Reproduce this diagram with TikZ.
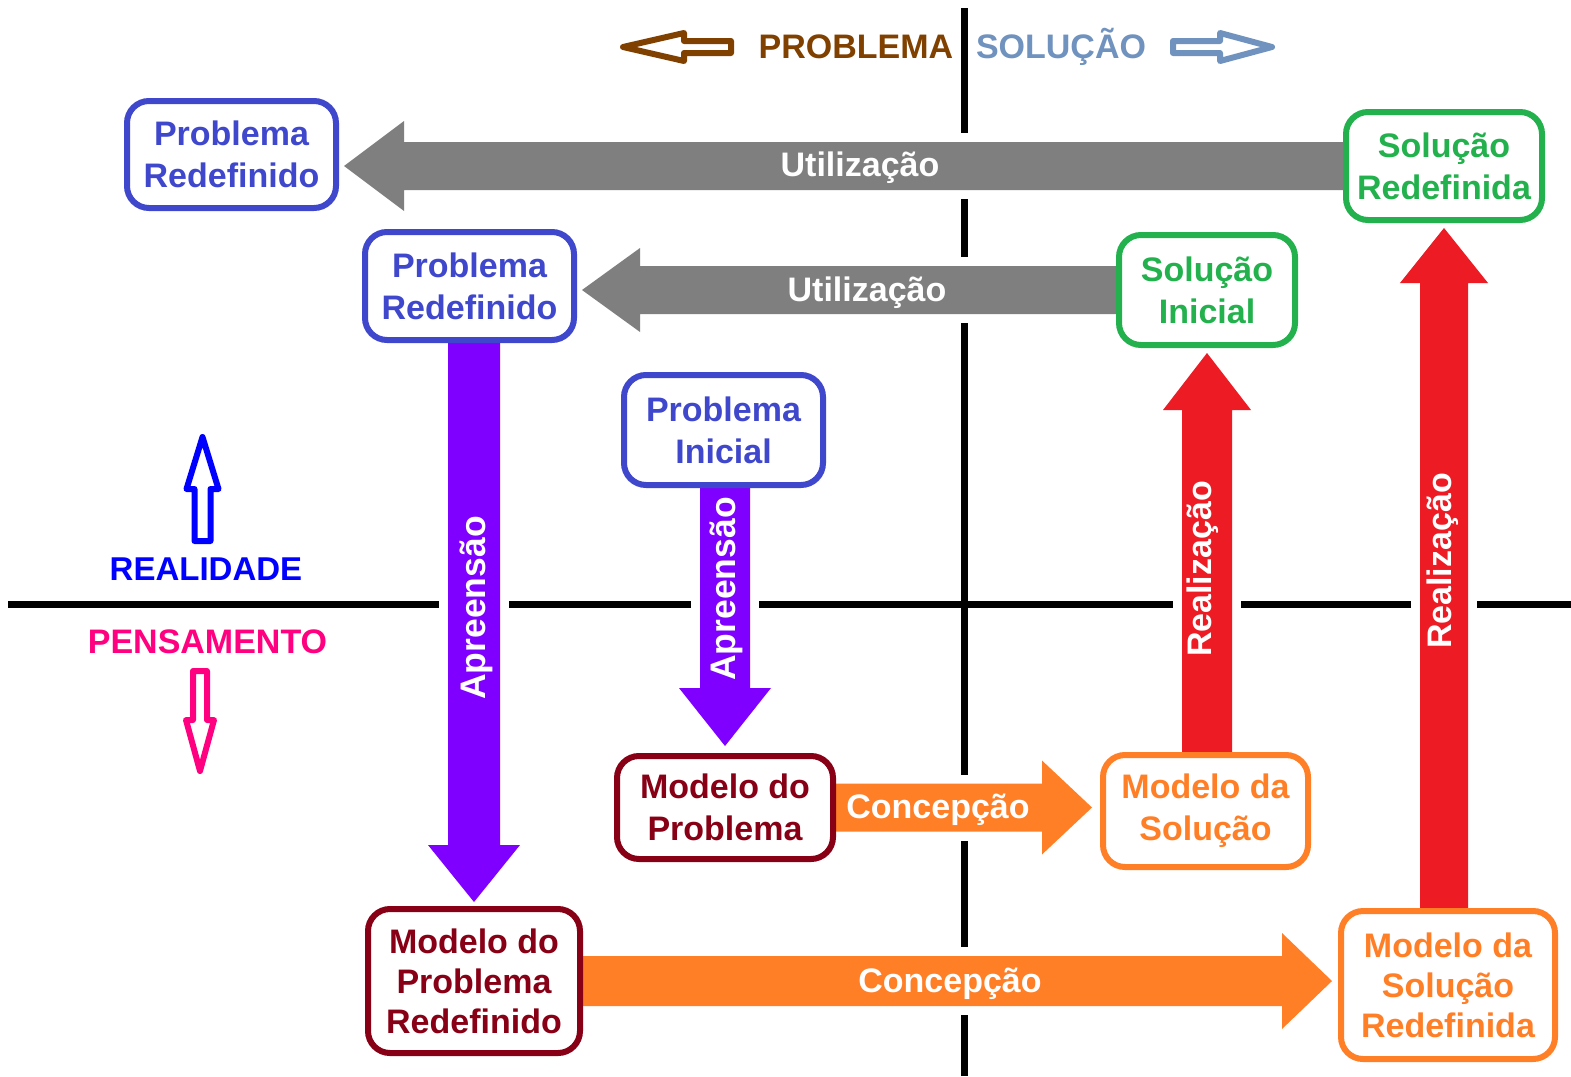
\documentclass[tikz,border=0pt]{standalone}
\usepackage{fontspec}
\setmainfont{Liberation Sans}
\usetikzlibrary{calc}
\pgfdeclarelayer{bg}
\pgfdeclarelayer{mid}
\pgfsetlayers{bg,mid,main}
\definecolor{cnblue}{HTML}{3F48CC}
\definecolor{cgreen}{HTML}{22B14C}
\definecolor{cdred}{HTML}{880015}
\definecolor{corange}{HTML}{FF7F27}
\definecolor{cgray}{HTML}{7F7F7F}
\definecolor{cpurple}{HTML}{8000FF}
\definecolor{cred}{HTML}{ED1C24}
\definecolor{cbrown}{HTML}{804000}
\definecolor{csteel}{HTML}{7092BE}
\definecolor{cblue}{HTML}{0000FF}
\definecolor{cpink}{HTML}{FF0080}
% block arrows: #1 colour, #2 start, #3 tip, #4 half body, #5 head length, #6 half head
\newcommand\arrL[6]{%
 \fill[white] let \p1=#2, \p2=#3 in (\x1,\y1+#4+9pt) rectangle (\x2+#5,\y1-#4-9pt);
 \fill[#1] let \p1=#2, \p2=#3 in (\x1,\y1+#4) -- (\x2+#5,\y1+#4) -- (\x2+#5,\y1+#6) -- (\x2,\y1) -- (\x2+#5,\y1-#6) -- (\x2+#5,\y1-#4) -- (\x1,\y1-#4) -- cycle;}
\newcommand\arrR[6]{%
 \fill[white] let \p1=#2, \p2=#3 in (\x1,\y1+#4+9pt) rectangle (\x2-#5,\y1-#4-9pt);
 \fill[#1] let \p1=#2, \p2=#3 in (\x1,\y1+#4) -- (\x2-#5,\y1+#4) -- (\x2-#5,\y1+#6) -- (\x2,\y1) -- (\x2-#5,\y1-#6) -- (\x2-#5,\y1-#4) -- (\x1,\y1-#4) -- cycle;}
\newcommand\arrD[6]{%
 \fill[white] let \p1=#2, \p2=#3 in (\x2-#4-9pt,\y1) rectangle (\x2+#4+9pt,\y2+#5);
 \fill[#1] let \p1=#2, \p2=#3 in (\x2-#4,\y1) -- (\x2-#4,\y2+#5) -- (\x2-#6,\y2+#5) -- (\x2,\y2) -- (\x2+#6,\y2+#5) -- (\x2+#4,\y2+#5) -- (\x2+#4,\y1) -- cycle;}
\newcommand\arrU[6]{%
 \fill[white] let \p1=#2, \p2=#3 in (\x2-#4-9pt,\y1) rectangle (\x2+#4+9pt,\y2-#5);
 \fill[#1] let \p1=#2, \p2=#3 in (\x2-#4,\y1) -- (\x2-#4,\y2-#5) -- (\x2-#6,\y2-#5) -- (\x2,\y2) -- (\x2+#6,\y2-#5) -- (\x2+#4,\y2-#5) -- (\x2+#4,\y1) -- cycle;}
\begin{document}
\begin{tikzpicture}[x=1pt,y=-1pt,
  box/.style={draw, line width=6pt, rounded corners=22pt, fill=white, align=center, inner sep=0pt, font=\bfseries\fontsize{34}{42}\selectfont},
  lbl/.style={text=white, font=\bfseries\fontsize{34}{40}\selectfont, inner sep=0pt},
  hdr/.style={font=\bfseries\fontsize{33}{40}\selectfont, inner sep=0pt},
  outarrow/.style={line width=6pt, line join=round, fill=white}]
\useasboundingbox (0,0) rectangle (1571,1076);
% nodes
\node[box, draw=cnblue, text=cnblue, minimum width=209pt, minimum height=107pt] (pr1) at (231.5,154.5) {Problema\\Redefinido};
\node[box, draw=cnblue, text=cnblue, minimum width=209pt, minimum height=108pt] (pr2) at (469.5,286) {Problema\\Redefinido};
\node[box, draw=cnblue, text=cnblue, minimum width=199pt, minimum height=110pt] (pi) at (723.5,430) {Problema\\Inicial};
\node[box, draw=cgreen, text=cgreen, minimum width=196pt, minimum height=108pt] (sr) at (1444,166) {Solução\\Redefinida};
\node[box, draw=cgreen, text=cgreen, minimum width=176pt, minimum height=110pt] (si) at (1207,290) {Solução\\Inicial};
\node[box, draw=cdred, text=cdred, minimum width=216pt, minimum height=103pt] (mp) at (725,807.5) {Modelo do\\Problema};
\node[box, draw=corange, text=corange, minimum width=205pt, minimum height=112pt] (ms) at (1205.5,811) {Modelo da\\Solução};
\node[box, draw=cdred, text=cdred, minimum width=212pt, minimum height=144pt, font=\bfseries\fontsize{34}{40}\selectfont] (mpr) at (474,981) {Modelo do\\Problema\\Redefinido};
\node[box, draw=corange, text=corange, minimum width=214pt, minimum height=148pt, font=\bfseries\fontsize{34}{40}\selectfont] (msr) at (1448,985) {Modelo da\\Solução\\Redefinida};
% background and axes
\begin{pgfonlayer}{bg}
\fill[white] (0,0) rectangle (1571,1076);
\draw[line width=7pt] (964,8) -- (964,1076);
\draw[line width=7pt] (8,604) -- (1571,604);
\end{pgfonlayer}
% block arrows
\begin{pgfonlayer}{mid}
\arrL{cgray}{(sr.west)}{([xshift=5pt]pr1.east)}{24pt}{60pt}{45pt}
\arrL{cgray}{(si.west)}{([xshift=5pt]pr2.east)}{24pt}{58pt}{42pt}
\arrD{cpurple}{(pr2.south)}{([yshift=4pt]mpr.north)}{26pt}{57pt}{46pt}
\arrD{cpurple}{(pi.south)}{([yshift=7pt]mp.north)}{25pt}{58pt}{46pt}
\arrU{cred}{(ms.north)}{([yshift=-5pt]si.south)}{25pt}{57pt}{44pt}
\arrU{cred}{(msr.north)}{([yshift=-5pt]sr.south)}{24pt}{55pt}{44pt}
\arrR{corange}{(mp.east)}{([xshift=-8pt]ms.west)}{24pt}{50pt}{47pt}
\arrR{corange}{(mpr.east)}{([xshift=-6pt]msr.west)}{25pt}{50pt}{48pt}
\end{pgfonlayer}
% arrow labels
\node[lbl] (u1) at (860,168) {Utilização};
\node[lbl] (u2) at (867,293) {Utilização};
\node[lbl, rotate=90, font=\bfseries\fontsize{35.5}{40}\selectfont] (a1) at (476,608) {Apreensão};
\node[lbl, rotate=90, font=\bfseries\fontsize{35.5}{40}\selectfont] (a2) at (726,589) {Apreensão};
\node[lbl, rotate=90] (r1) at (1203,569) {Realização};
\node[lbl, rotate=90] (r2) at (1443,561) {Realização};
\node[lbl] (c1) at (938,810) {Concepção};
\node[lbl] (c2) at (950,984) {Concepção};
% header
\draw[cbrown, outarrow] (623,47) -- (684,33) -- (684,41) -- (731,41) -- (731,53) -- (684,53) -- (684,61) -- cycle;
\node[hdr, text=cbrown, font=\bfseries\fontsize{34}{40}\selectfont] (prob) at (856,47) {PROBLEMA};
\node[hdr, text=csteel, font=\bfseries\fontsize{34}{40}\selectfont] (sol) at (1061,47) {SOLUÇÃO};
\draw[csteel, outarrow] (1272,47) -- (1220,33) -- (1220,41) -- (1173,41) -- (1173,53) -- (1220,53) -- (1220,61) -- cycle;
% left legend
\draw[cblue, outarrow] (194.5,541) -- (194.5,489) -- (186.5,489) -- (202.5,437) -- (218.5,489) -- (210.5,489) -- (210.5,541) -- cycle;
\node[hdr, text=cblue] (real) at (206,569.5) {REALIDADE};
\node[hdr, text=cpink, font=\bfseries\fontsize{34}{40}\selectfont] (pens) at (207.5,641.5) {PENSAMENTO};
\draw[cpink, outarrow] (193,671) -- (207,671) -- (207,720) -- (214,720) -- (200,771) -- (186,720) -- (193,720) -- cycle;
\end{tikzpicture}
\end{document}
